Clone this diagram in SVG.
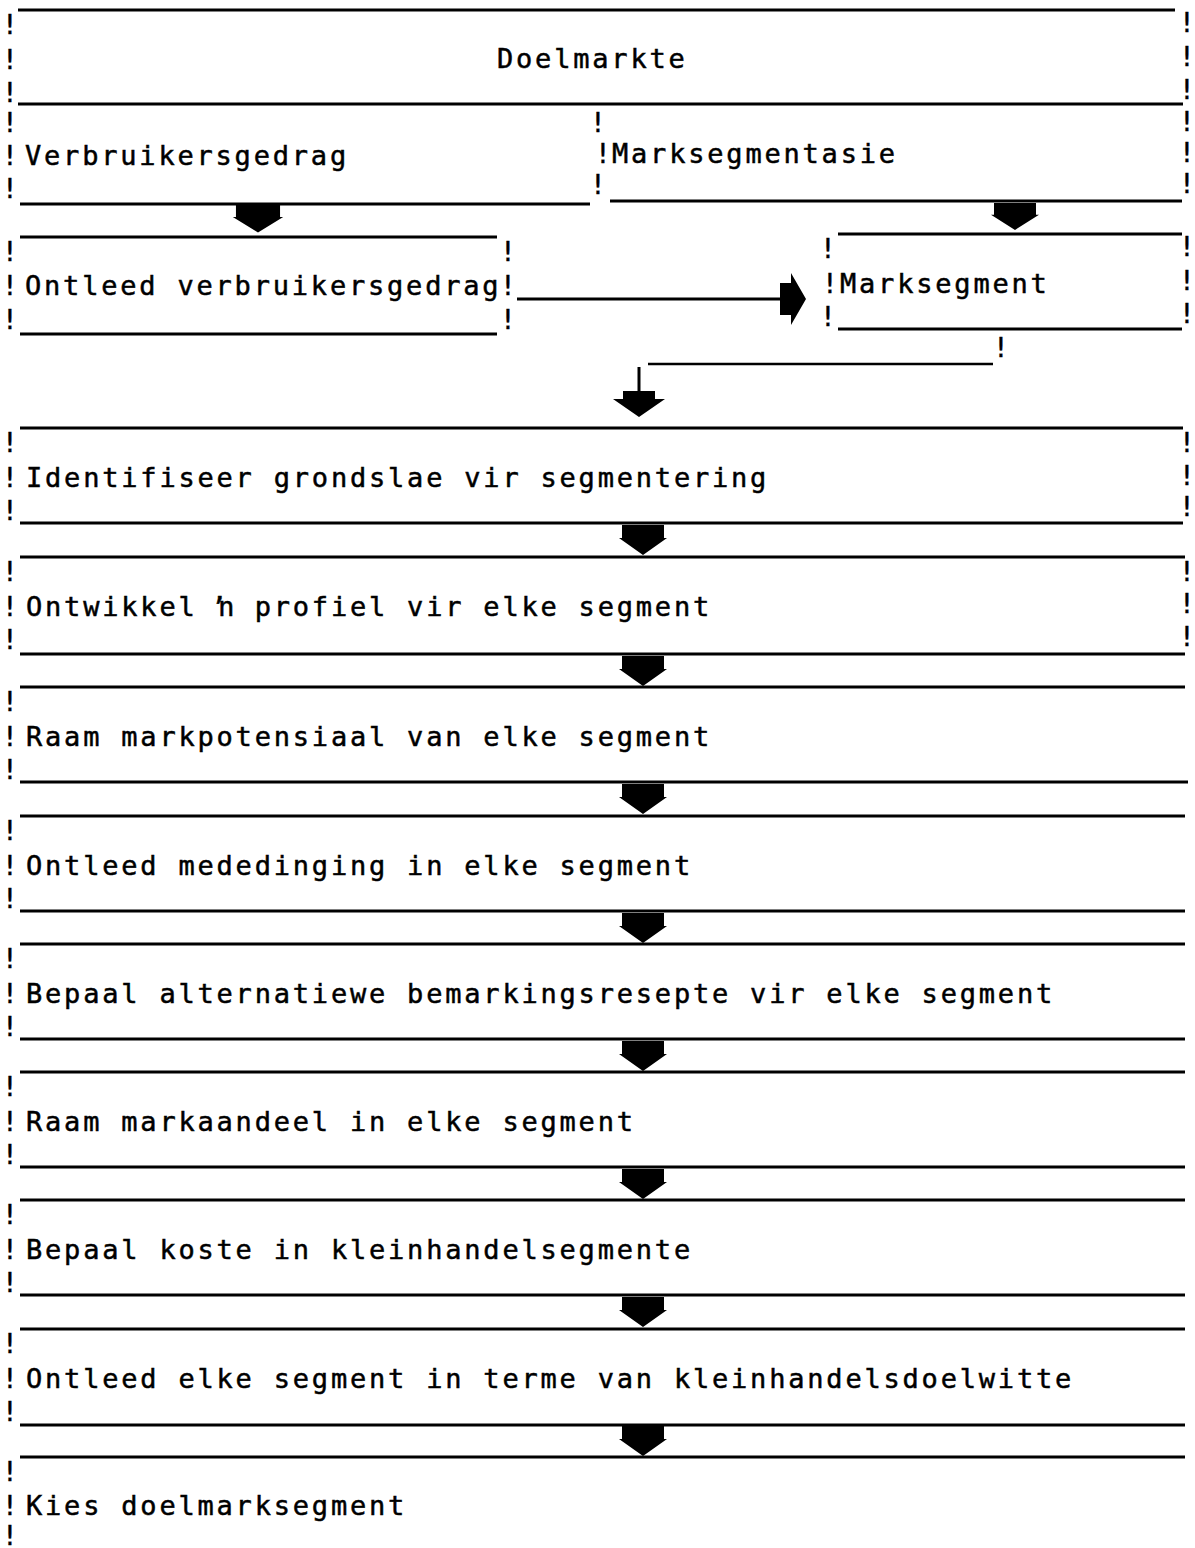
<svg xmlns="http://www.w3.org/2000/svg" width="1195" height="1548" viewBox="0 0 1195 1548">
  <style>
    .bg { fill: #ffffff; }
    .t { font-family: "DejaVu Sans Mono", "Liberation Mono", monospace; font-size: 27px; letter-spacing: 2.8px; fill: #000; stroke: #000; stroke-width: 0.5px; }
    .b { font-family: "DejaVu Sans Mono", "Liberation Mono", monospace; font-size: 27px; fill: #000; stroke: #000; stroke-width: 0.4px; text-anchor: middle; }
    .ln { stroke: #000; stroke-width: 3; fill: none; }
    .thin { stroke: #000; stroke-width: 2.5; fill: none; }
    .ah { fill: #000; }
  </style>
  <defs>
    <!-- block arrow pointing down, origin at top centre -->
    <path id="down" d="M-21,0 H21 V13 H24 L0,30 L-24,13 H-21 Z"/>
  </defs>
  <rect class="bg" x="0" y="0" width="1195" height="1548"/>

  <!-- Doelmarkte (outer frame) -->
  <g id="doelmarkte">
    <line class="ln" x1="18" y1="10" x2="1175" y2="10"/>
    <line class="ln" x1="18" y1="104" x2="1183" y2="104"/>
    <text class="t" x="497" y="68">Doelmarkte</text>
    <text class="b" x="10" y="34">!</text>
    <text class="b" x="10" y="69">!</text>
    <text class="b" x="10" y="102">!</text>
    <text class="b" x="1187" y="32">!</text>
    <text class="b" x="1187" y="66">!</text>
    <text class="b" x="1187" y="99">!</text>
    <text class="b" x="1187" y="131">!</text>
    <text class="b" x="1187" y="162">!</text>
    <text class="b" x="1187" y="193">!</text>
  </g>

  <!-- Verbruikersgedrag -->
  <g id="verbruikersgedrag">
    <line class="ln" x1="20" y1="204" x2="590" y2="204"/>
    <text class="b" x="10" y="132">!</text>
    <text class="b" x="10" y="165">!</text>
    <text class="b" x="10" y="198">!</text>
    <text class="t" x="25" y="165">Verbruikersgedrag</text>
  </g>

  <!-- Marksegmentasie -->
  <g id="marksegmentasie">
    <line class="ln" x1="610" y1="201" x2="1182" y2="201"/>
    <text class="b" x="598" y="132">!</text>
    <text class="b" x="603" y="163">!</text>
    <text class="b" x="598" y="194">!</text>
    <text class="t" x="612" y="163">Marksegmentasie</text>
  </g>

  <!-- Ontleed verbruikersgedrag -->
  <g id="ontleed-verbruikersgedrag">
    <line class="ln" x1="20" y1="237" x2="497" y2="237"/>
    <line class="ln" x1="20" y1="334" x2="497" y2="334"/>
    <text class="b" x="10" y="261">!</text>
    <text class="b" x="10" y="295">!</text>
    <text class="b" x="10" y="329">!</text>
    <text class="b" x="508" y="261">!</text>
    <text class="b" x="508" y="295">!</text>
    <text class="b" x="508" y="329">!</text>
    <text class="t" x="25" y="295">Ontleed verbruikersgedrag</text>
  </g>

  <!-- Marksegment -->
  <g id="marksegment">
    <line class="ln" x1="838" y1="234" x2="1182" y2="234"/>
    <line class="ln" x1="838" y1="329" x2="1182" y2="329"/>
    <text class="b" x="828" y="258">!</text>
    <text class="b" x="830" y="293">!</text>
    <text class="b" x="828" y="326">!</text>
    <text class="b" x="1187" y="256">!</text>
    <text class="b" x="1187" y="290">!</text>
    <text class="b" x="1187" y="323">!</text>
    <text class="t" x="840" y="293">Marksegment</text>
  </g>

  <!-- Steps -->
  <g id="step1">
    <line class="ln" x1="20" y1="428" x2="1183" y2="428"/>
    <line class="ln" x1="20" y1="523" x2="1183" y2="523"/>
    <text class="b" x="10" y="452">!</text>
    <text class="b" x="10" y="487">!</text>
    <text class="b" x="10" y="520">!</text>
    <text class="b" x="1187" y="452">!</text>
    <text class="b" x="1187" y="485">!</text>
    <text class="b" x="1187" y="516">!</text>
    <text class="t" x="26" y="487">Identifiseer grondslae vir segmentering</text>
  </g>
  <g id="step2">
    <line class="ln" x1="20" y1="557" x2="1185" y2="557"/>
    <line class="ln" x1="20" y1="654" x2="1185" y2="654"/>
    <text class="b" x="10" y="581">!</text>
    <text class="b" x="10" y="616">!</text>
    <text class="b" x="10" y="649">!</text>
    <text class="b" x="1187" y="581">!</text>
    <text class="b" x="1187" y="613">!</text>
    <text class="b" x="1187" y="646">!</text>
    <text class="t" x="26" y="616">Ontwikkel ŉ profiel vir elke segment</text>
  </g>
  <g id="step3">
    <line class="ln" x1="20" y1="687" x2="1185" y2="687"/>
    <line class="ln" x1="20" y1="782" x2="1188" y2="782"/>
    <text class="b" x="10" y="711">!</text>
    <text class="b" x="10" y="746">!</text>
    <text class="b" x="10" y="779">!</text>
    <text class="t" x="26" y="746">Raam markpotensiaal van elke segment</text>
  </g>
  <g id="step4">
    <line class="ln" x1="20" y1="816" x2="1185" y2="816"/>
    <line class="ln" x1="20" y1="911" x2="1185" y2="911"/>
    <text class="b" x="10" y="840">!</text>
    <text class="b" x="10" y="875">!</text>
    <text class="b" x="10" y="908">!</text>
    <text class="t" x="26" y="875">Ontleed mededinging in elke segment</text>
  </g>
  <g id="step5">
    <line class="ln" x1="20" y1="944" x2="1185" y2="944"/>
    <line class="ln" x1="20" y1="1039" x2="1185" y2="1039"/>
    <text class="b" x="10" y="968">!</text>
    <text class="b" x="10" y="1003">!</text>
    <text class="b" x="10" y="1036">!</text>
    <text class="t" x="26" y="1003">Bepaal alternatiewe bemarkingsresepte vir elke segment</text>
  </g>
  <g id="step6">
    <line class="ln" x1="20" y1="1072" x2="1185" y2="1072"/>
    <line class="ln" x1="20" y1="1167" x2="1185" y2="1167"/>
    <text class="b" x="10" y="1096">!</text>
    <text class="b" x="10" y="1131">!</text>
    <text class="b" x="10" y="1164">!</text>
    <text class="t" x="26" y="1131">Raam markaandeel in elke segment</text>
  </g>
  <g id="step7">
    <line class="ln" x1="20" y1="1200" x2="1185" y2="1200"/>
    <line class="ln" x1="20" y1="1295" x2="1185" y2="1295"/>
    <text class="b" x="10" y="1224">!</text>
    <text class="b" x="10" y="1259">!</text>
    <text class="b" x="10" y="1292">!</text>
    <text class="t" x="26" y="1259">Bepaal koste in kleinhandelsegmente</text>
  </g>
  <g id="step8">
    <line class="ln" x1="20" y1="1329" x2="1185" y2="1329"/>
    <line class="ln" x1="20" y1="1425" x2="1185" y2="1425"/>
    <text class="b" x="10" y="1353">!</text>
    <text class="b" x="10" y="1388">!</text>
    <text class="b" x="10" y="1421">!</text>
    <text class="t" x="26" y="1388">Ontleed elke segment in terme van kleinhandelsdoelwitte</text>
  </g>
  <g id="step9">
    <line class="ln" x1="20" y1="1457" x2="1185" y2="1457"/>
    <text class="b" x="10" y="1481">!</text>
    <text class="b" x="10" y="1515">!</text>
    <text class="b" x="10" y="1545">!</text>
    <text class="t" x="26" y="1515">Kies doelmarksegment</text>
  </g>

  <!-- Connectors -->
  <g id="connectors">
    <use href="#down" class="ah" transform="translate(258,205) scale(1.05,0.92)"/>
    <use href="#down" class="ah" transform="translate(1015,203) scale(1,0.9)"/>
    <!-- Ontleed verbruikersgedrag -> Marksegment -->
    <line class="ln" x1="517" y1="299" x2="782" y2="299"/>
    <path class="ah" d="M780,283 H791 V273 L806,299 L791,325 V315 H780 Z"/>
    <!-- Marksegment -> step 1 -->
    <text class="b" x="1001" y="357">!</text>
    <line class="thin" x1="648" y1="364" x2="993" y2="364"/>
    <line class="ln" x1="639" y1="367" x2="639" y2="393"/>
    <path class="ah" d="M623,391 H655 V399 H665 L639,417 L613,399 H623 Z"/>
    <!-- step chain -->
    <use href="#down" class="ah" transform="translate(643,525)"/>
    <use href="#down" class="ah" transform="translate(643,656)"/>
    <use href="#down" class="ah" transform="translate(643,784)"/>
    <use href="#down" class="ah" transform="translate(643,913)"/>
    <use href="#down" class="ah" transform="translate(643,1041)"/>
    <use href="#down" class="ah" transform="translate(643,1169)"/>
    <use href="#down" class="ah" transform="translate(643,1297)"/>
    <use href="#down" class="ah" transform="translate(643,1426)"/>
  </g>
</svg>
